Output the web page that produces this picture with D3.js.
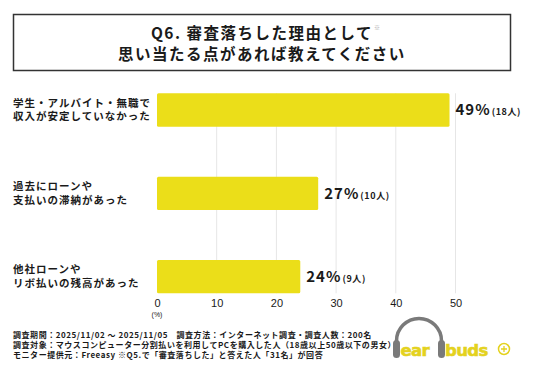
<!DOCTYPE html>
<html>
<head>
<meta charset="utf-8">
<script src="https://cdn.jsdelivr.net/npm/d3@7"></script>
<style>
  body { margin: 0; background: #fff; }
  svg { display: block; font-family: "Noto Sans CJK JP", "Noto Sans", sans-serif; }
</style>
</head>
<body>
<div id="chart"></div>
<script>
// data
var categories = [
    ["学生・アルバイト・無職で", "収入が安定していなかった"],
    ["過去にローンや", "支払いの滞納があった"],
    ["他社ローンや", "リボ払いの残高があった"]
];
var percents = [49, 27, 24];
var counts = [18, 10, 9];
var tickValues = [0, 10, 20, 30, 40, 50];
var titleLines = ["Q6. 審査落ちした理由として", "思い当たる点があれば教えてください"];
var notes = [
    "調査期間：2025/11/02 ～ 2025/11/05　調査方法：インターネット調査・調査人数：200名",
    "調査対象：マウスコンピューター分割払いを利用してPCを購入した人（18歳以上50歳以下の男女）",
    "モニター提供元：Freeasy ※Q5.で「審査落ちした」と答えた人「31名」が回答"
];

var width = 536, height = 371;
var barColor = "#ebde19";
var textColor = "#1a1a1a";

var rows = categories.map(function (c, i) {
    return { idx: i, label: c, pct: percents[i], n: counts[i] };
});

var svg = d3.select("#chart").append("svg")
    .attr("width", width)
    .attr("height", height);

// title box
svg.append("rect")
    .attr("x", 13.5)
    .attr("y", 14.5)
    .attr("width", 497)
    .attr("height", 56)
    .attr("fill", "#fff")
    .attr("stroke", "#333")
    .attr("stroke-width", 1.5);

var title = svg.append("g").attr("class", "title");
var titleText = title.selectAll("text.line")
    .data(titleLines)
    .enter()
    .append("text")
    .attr("class", "line")
    .attr("x", 262)
    .attr("y", (d, i) => 38.5 + i * 21.5)
    .attr("text-anchor", "middle")
    .style("font-size", "15.5px")
    .style("font-weight", 700)
    .style("letter-spacing", "1.5px")
    .style("fill", textColor)
    .text(d => d);
// small note mark right after line 1
var line1Len = titleText.nodes()[0].getComputedTextLength();
title.append("text")
    .attr("x", 262 + line1Len / 2 + 1)
    .attr("y", 30)
    .style("font-size", "6px")
    .style("fill", "#aaa")
    .text("※");

//Scale definition
var x = d3.scaleLinear()
    .domain([0, 50])
    .range([157, 455.5]);
var y = d3.scaleBand()
    .domain(rows.map(d => d.idx))
    .range([68.3, 318.3])
    .paddingInner(0.6)
    .paddingOuter(0.3);

var gridTop = y(0), gridBottom = y(2) + y.bandwidth();

// grid lines
svg.append("g")
    .attr("class", "grid")
    .selectAll("line")
    .data(tickValues.filter(t => t > 0))
    .enter()
    .append("line")
    .attr("x1", d => x(d))
    .attr("x2", d => x(d))
    .attr("y1", gridTop)
    .attr("y2", gridBottom)
    .attr("stroke", "#e6e6e6")
    .attr("stroke-width", 1);

// bars
svg.append("g")
    .selectAll("rect")
    .data(rows)
    .enter()
    .append("rect")
    .attr("x", x(0))
    .attr("y", d => y(d.idx))
    .attr("width", d => x(d.pct) - x(0))
    .attr("height", y.bandwidth())
    .attr("rx", 1.5)
    .attr("fill", barColor);

// category labels
var cat = svg.append("g")
    .selectAll("text")
    .data(rows)
    .enter()
    .append("text")
    .attr("x", 13)
    .attr("y", d => y(d.idx) + y.bandwidth() / 2)
    .style("font-size", "10.5px")
    .style("font-weight", 700)
    .style("letter-spacing", "1px")
    .style("fill", textColor);
cat.append("tspan")
    .attr("x", 13)
    .attr("dy", "-0.3em")
    .text(d => d.label[0]);
cat.append("tspan")
    .attr("x", 13)
    .attr("dy", "1.3em")
    .text(d => d.label[1]);

// value labels
var val = svg.append("g")
    .selectAll("text")
    .data(rows)
    .enter()
    .append("text")
    .attr("x", d => x(d.pct) + 6)
    .attr("y", d => y(d.idx) + y.bandwidth() / 2 + 5.5)
    .style("fill", textColor)
    .style("font-weight", 700);
val.append("tspan")
    .style("font-size", "15px")
    .style("letter-spacing", "1px")
    .text(d => d.pct + "%");
val.append("tspan")
    .attr("dx", 1)
    .style("font-size", "9px")
    .style("letter-spacing", "0.6px")
    .text(d => "(" + d.n + "人)");

// x axis
var xAxis = svg.append("g")
    .attr("transform", "translate(0," + 306.5 + ")")
    .call(d3.axisBottom(x).tickValues(tickValues).tickSize(0).tickPadding(0));
xAxis.select(".domain").remove();
xAxis.selectAll("text")
    .attr("y", 0)
    .attr("dy", 0)
    .style("font-family", "\"Liberation Sans\", sans-serif")
    .style("font-size", "11px")
    .style("font-weight", 400)
    .style("fill", textColor);

svg.append("text")
    .attr("x", x(0))
    .attr("y", 316.5)
    .attr("text-anchor", "middle")
    .style("font-family", "\"Liberation Sans\", sans-serif")
    .style("font-size", "7px")
    .style("fill", textColor)
    .text("(%)");

// footnotes
svg.append("g")
    .selectAll("text")
    .data(notes)
    .enter()
    .append("text")
    .attr("x", 13)
    .attr("y", (d, i) => 337.5 + i * 10)
    .style("font-size", "8px")
    .style("font-weight", 700)
    .style("letter-spacing", "0.55px")
    .style("fill", textColor)
    .text(d => d);

// logo
var logoYellow = "#e4d21e", logoGrey = "#7a7a7a";
var logo = svg.append("g").attr("class", "logo");
logo.append("path")
    .attr("d", "M396.5,348 L396.5,341 A22.5,22.5 0 0 1 441.5,341 L441.5,348")
    .attr("fill", "none")
    .attr("stroke", logoGrey)
    .attr("stroke-width", 3.5);
logo.selectAll("text.word")
    .data([["ear", 400.5], ["buds", 445]])
    .enter()
    .append("text")
    .attr("class", "word")
    .attr("x", d => d[1])
    .attr("y", 356)
    .style("font-family", "\"DejaVu Sans\", sans-serif")
    .style("font-size", "16.5px")
    .style("font-weight", 700)
    .style("letter-spacing", "-0.6px")
    .style("fill", logoYellow)
    .style("stroke", logoYellow)
    .style("stroke-width", 0.6)
    .text(d => d[0]);
logo.selectAll("rect.cup")
    .data([393, 438])
    .enter()
    .append("rect")
    .attr("class", "cup")
    .attr("x", d => d)
    .attr("y", 340)
    .attr("width", 7)
    .attr("height", 18)
    .attr("rx", 3.5)
    .attr("fill", logoGrey);
logo.append("circle")
    .attr("cx", 504)
    .attr("cy", 349)
    .attr("r", 5.5)
    .attr("fill", "none")
    .attr("stroke", logoYellow)
    .attr("stroke-width", 1.5);
logo.append("path")
    .attr("d", "M501,349 H507 M504,346 V352")
    .attr("stroke", logoYellow)
    .attr("stroke-width", 1.3);
</script>
</body>
</html>
